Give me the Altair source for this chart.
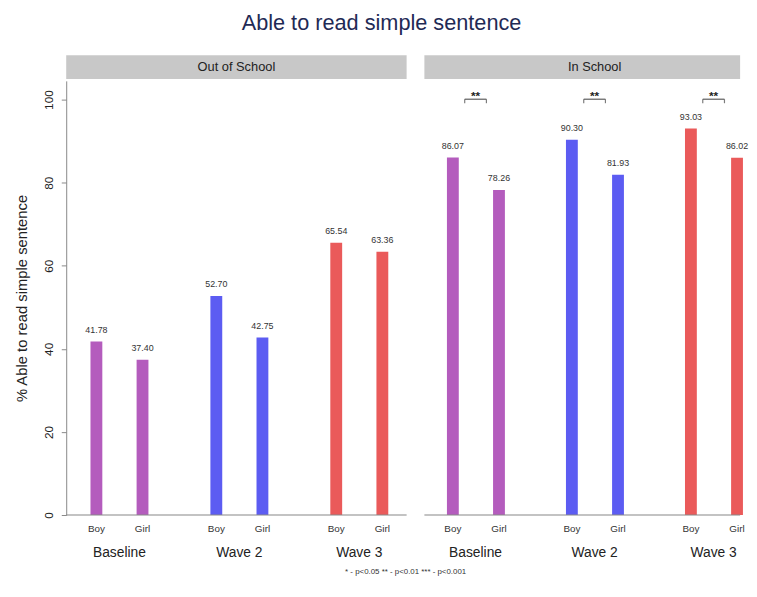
import altair as alt
import pandas as pd

FONT = "Liberation Sans"

schools = ["Out of School", "In School"]
waves = ["Baseline", "Wave 2", "Wave 3"]
genders = ["Boy", "Girl"]
out_values = [41.78, 37.40, 52.70, 42.75, 65.54, 63.36]
in_values = [86.07, 78.26, 90.30, 81.93, 93.03, 86.02]
in_signif = ["**", "**", "**"]
wave_colors = ["#b45cbd", "#5c5cf2", "#ea5a5a"]
footnote = "* - p<0.05 ** - p<0.01 *** - p<0.001"


def frame(values):
    rows = []
    for i, v in enumerate(values):
        rows.append({"wave": waves[i // 2], "gender": genders[i % 2], "value": v})
    return pd.DataFrame(rows)


H = 440
W_LEFT = 345
W_RIGHT = 320
YMAX = 104.5


def panel(df, name, width, show_y, signif=None):
    if show_y:
        xscale = alt.Scale(domain=waves, paddingInner=0.2, paddingOuter=0.044, rangeMax=351)
    else:
        xscale = alt.Scale(domain=waves, paddingInner=0.2, paddingOuter=0.03, rangeMax=W_LEFT)
    offscale = alt.Scale(domain=genders, paddingInner=0.74, paddingOuter=0.41)
    yscale = alt.Scale(domain=[0, YMAX], nice=False, zero=True)
    xenc = alt.X("wave:N", sort=waves, scale=xscale, axis=None)
    off = alt.XOffset("gender:N", sort=genders, scale=offscale)
    if show_y:
        yaxis = alt.Axis(title="% Able to read simple sentence", titleFontSize=15, titleFont=FONT,
                         titleFontWeight="normal", titleColor="#222", titlePadding=13,
                         values=[0, 20, 40, 60, 80, 100], labelAngle=270, labelAlign="center",
                         labelBaseline="bottom", labelFontSize=12, labelFont=FONT, labelColor="#222",
                         labelPadding=6, tickSize=5, tickColor="#888", domainColor="#888",
                         grid=False)
    else:
        yaxis = None
    yenc = alt.Y("value:Q", scale=yscale, axis=yaxis)
    base = alt.Chart(df)
    bars = base.mark_bar(size=12).encode(
        x=xenc, xOffset=off, y=yenc,
        color=alt.Color("wave:N", scale=alt.Scale(domain=waves, range=wave_colors), legend=None),
    )
    labels = base.mark_text(fontSize=9, font=FONT, color="#333", baseline="bottom", dy=-7).encode(
        x=xenc, xOffset=off, y=yenc, text=alt.Text("value:Q", format=".2f"))
    glabels = base.mark_text(fontSize=10, font=FONT, color="#333", baseline="top", dy=9).encode(
        x=xenc, xOffset=off, y=alt.datum(0), text="gender:N")
    wdf = pd.DataFrame({"wave": waves})
    wlabels = alt.Chart(wdf).mark_text(fontSize=14, font=FONT, color="#222", baseline="top", dy=32).encode(
        x=alt.X("wave:N", sort=waves), y=alt.datum(0), text="wave:N")
    baseline_rule = alt.Chart(pd.DataFrame({"v": [0]})).mark_rule(color="#888", strokeWidth=1.2).encode(
        x=alt.value(0), x2=alt.value(width), y=alt.Y("v:Q"))
    strip = alt.Chart(pd.DataFrame({"s": [name]})).mark_rect(color="#c8c8c8").encode(
        x=alt.value(0), x2=alt.value(width), y=alt.value(-26), y2=alt.value(-2))
    strip_text = alt.Chart(pd.DataFrame({"s": [name]})).mark_text(
        fontSize=13, font=FONT, color="#222", baseline="middle").encode(
        x=alt.value(W_LEFT / 2 if not show_y else width / 2), y=alt.value(-14), text="s:N")
    layers = [bars, labels, glabels, wlabels, baseline_rule, strip, strip_text]
    if signif is not None:
        sdf = pd.DataFrame({"wave": waves, "sig": signif, "pos": [101.5] * 3})
        sbase = alt.Chart(sdf)
        sx = alt.X("wave:N", sort=waves)
        stars = sbase.mark_text(fontSize=12, font=FONT, color="#222", fontWeight="bold", dy=3).encode(
            x=sx, y=alt.Y("pos:Q"), text="sig:N")
        bar_h = sbase.mark_tick(orient="horizontal", size=22, thickness=1.5, color="#444", yOffset=6).encode(
            x=sx, y=alt.Y("pos:Q"))
        leg_l = sbase.mark_tick(orient="vertical", size=4, thickness=1.2, color="#444",
                                xOffset=-11, yOffset=8).encode(x=sx, y=alt.Y("pos:Q"))
        leg_r = sbase.mark_tick(orient="vertical", size=4, thickness=1.2, color="#444",
                                xOffset=11, yOffset=8).encode(x=sx, y=alt.Y("pos:Q"))
        layers += [stars, bar_h, leg_l, leg_r]
    if show_y:
        foot = alt.Chart(pd.DataFrame({"f": [footnote]})).mark_text(
            fontSize=8, font=FONT, color="#333", baseline="middle").encode(
            x=alt.value(width - 1), y=alt.value(H + 58), text="f:N")
        layers.append(foot)
    return alt.layer(*layers).properties(width=width, height=H)


left = panel(frame(out_values), schools[0], W_LEFT, True)
right = panel(frame(in_values), schools[1], W_RIGHT, False, in_signif)

chart = alt.hconcat(left, right, spacing=18, bounds="flush").properties(
    title=alt.Title("Able to read simple sentence", fontSize=22, font=FONT, fontWeight="normal",
                    color="#1f2a55", anchor="middle", offset=21),
    padding={"left": 7, "top": 0, "right": 0, "bottom": 0},
).configure_view(stroke=None)

chart.save("out.html", embed_options={"renderer": "svg", "actions": False})
